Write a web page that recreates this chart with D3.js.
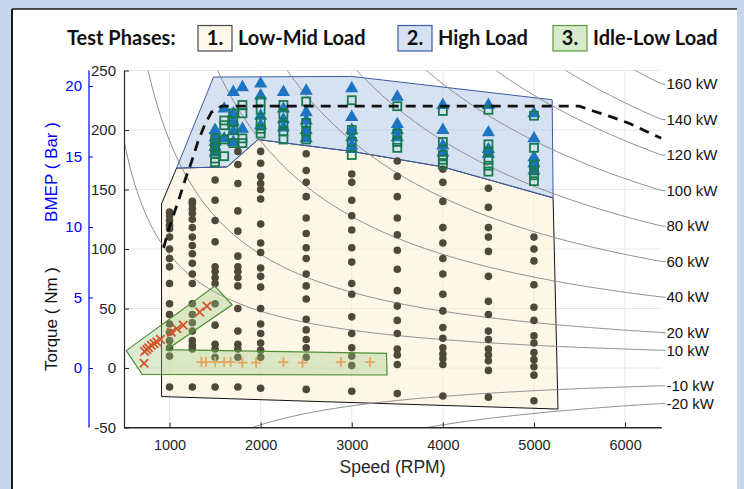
<!DOCTYPE html>
<html>
<head>
<meta charset="utf-8">
<script src="https://cdn.jsdelivr.net/npm/d3@7"></script>
<style>
  html, body { margin: 0; padding: 0; background: #c8d8ec; }
  svg { display: block; }
</style>
</head>
<body>
<svg id="chart" width="744" height="489"></svg>
<script>
// ---- engine map data (Speed in RPM, Torque in Nm) ----
const speedTicks = [1000, 2000, 3000, 4000, 5000, 6000];
const torqueTicks = [-50, 0, 50, 100, 150, 200, 250];
const bmepTicks = [0, 5, 10, 15, 20];
const powerLevels = [160, 140, 120, 100, 80, 60, 40, 20, 10, -10, -20];
const nmPerBar = 11.85;

// phase outlines
const lowMidOutline = [[912, -24], [912, 138], [1077, 168], [1632, 169], [1970, 192],
  [3000, 182], [4000, 169], [5210, 143], [5264, -34.5]];
const highOutline = [[1077, 168], [1483, 244.5], [3000, 245], [5200, 225.4], [5210, 143],
  [4000, 169], [3000, 182], [1970, 192], [1632, 169]];
const idleOutline = [[525, 14.6], [1497, 68.8], [1687, 53.1], [967, 15.4], [3381, 12.3],
  [3388, -5.9], [699, -5.4]];

// full-load torque line
const wotSpeed = [935, 1000, 1100, 1170, 1240, 1315, 1390, 1460, 1570, 5500, 5650, 5850, 6050, 6230, 6400];
const wotTorque = [101, 119, 141, 158, 173, 191, 205, 215, 220, 220, 216, 211, 205.5, 199, 193];

// phase 1: low-mid load operating points, torque per speed column
const lowMidSpeed = [1000, 1250, 1500, 1750, 2000, 2500, 3000, 3500, 4000, 4500, 5000];
const lowMidTorque = [
  [131, 128, 124, 120, 117, 110, 100, 92, 85, 71, 54, 45, 37, 30, 23, 17, 10, -16],
  [140, 138, 134, 130, 125, 118, 110, 103, 96, 88, 79, 71, 54, 45, 38, 31, 23, 19, 16, -16],
  [158, 141, 124, 106, 85, 81, 76, 71, 54, 36, 20, 16, 9, -16],
  [182, 171, 155, 132, 115, 94, 85, 81, 76, 69, 50, 31, 20, 16, 9, -16],
  [182, 172, 161, 155, 150, 142, 121, 105, 97, 84, 77, 68, 50, 37, 29, 21, 15, 9, -17],
  [180, 166, 156, 144, 126, 113, 101, 92, 79, 69, 58, 41, 32, 24, 17, 9, -18],
  [163, 156, 141, 128, 116, 101, 89, 71, 62, 43, 29, 17, 10, 2, -19.5],
  [174, 161, 144, 126, 112, 99, 83, 65, 52, 40, 29, 16, 11, 3, -21.5],
  [167, 156, 140, 118, 105, 92, 79, 62, 48, 34, 25, 17, 12, 8, 3, -23.5],
  [151, 135, 118, 110, 98, 77, 56, 45, 31, 24, 16, 11, 6, -2, -24.5],
  [110, 100, 90, 70, 51, 40, 27, 21, 13, 7, 1, -6, -27.5]
];

// phase 2: high load operating points
const highSpeed = [1500, 1600, 1700, 1800, 2000, 2250, 2500, 3000, 3500, 4000, 4500, 5000];
const highTriTorque = [
  [199, 193, 189, 185, 180],
  [217, 192],
  [231, 213, 206, 198, 189],
  [235, 200],
  [238, 228, 211, 203],
  [231, 217, 208, 201],
  [232, 214, 207, 199, 192],
  [234, 210, 199, 193, 186, 183],
  [227, 204, 199, 193],
  [220, 199, 186, 180],
  [220, 197, 183, 179],
  [213, 192, 176, 171, 165]
];
const highSqTorque = [
  [193, 189, 185, 180, 176, 173],
  [208, 204, 192, 178],
  [214, 207, 200, 189],
  [221, 214, 193, 189],
  [224, 217, 207, 201, 197],
  [221, 213, 204, 199, 192],
  [224, 206, 199, 192],
  [225, 200, 190, 179],
  [220, 197, 190, 185],
  [216, 190, 179, 175, 171],
  [217, 188, 182, 175, 170, 165],
  [212, 185, 171, 166, 162, 157]
];

// phase 3: idle-low load operating points
const idleRampSpeed = [720, 725, 750, 770, 800, 830, 860, 900, 1020, 1080, 1150, 1330, 1410];
const idleRampTorque = [4, 14, 15.5, 17, 19, 20.5, 22, 24, 30, 33, 36, 47, 52];
const idleFlatSpeed = [1350, 1400, 1500, 1600, 1670, 1800, 1950, 2250, 2460, 2880, 3200];
const idleFlatTorque = [5, 5, 5, 5, 5, 4.5, 4.5, 5, 4.5, 5, 5];

// ---- layout ----
const svg = d3.select('#chart');
const W = 744, H = 489;
const plot = { left: 124, right: 661.5, top: 70.5, bottom: 427.5 };
const x = d3.scaleLinear().domain([500, 6400]).range([plot.left, plot.right]);
const y = d3.scaleLinear().domain([-50, 250]).range([plot.bottom, plot.top]);
const yBmep = d3.scaleLinear().domain([-50 / nmPerBar, 250 / nmPerBar]).range([plot.bottom, plot.top]);
const textColor = '#262626';
const font = "'Liberation Sans', Arial, sans-serif";
const plain = d => String(d);

// window frame
svg.append('rect').attr('width', W).attr('height', H).attr('fill', '#c8d8ec');
svg.append('rect').attr('x', 12).attr('y', 9).attr('width', 725).attr('height', H)
  .attr('fill', '#ffffff');
svg.append('line').attr('x1', 12).attr('x2', 12).attr('y1', 9).attr('y2', H)
  .attr('stroke', '#1a1a1a').attr('stroke-width', 2);
svg.append('line').attr('x1', 12).attr('x2', 737).attr('y1', 9).attr('y2', 9)
  .attr('stroke', '#1a1a1a').attr('stroke-width', 1.5);

// legend
const legend = svg.append('g').attr('font-family', "Lato, 'Open Sans', sans-serif")
  .attr('font-weight', 'bold').attr('font-size', 20).attr('fill', '#111');
legend.append('text').attr('x', 67).attr('y', 45).text('Test Phases:');
const legendItems = [
  { n: '1.', label: 'Low-Mid Load', x: 198, fill: '#fdf8ea', stroke: '#4a4a4a' },
  { n: '2.', label: 'High Load', x: 398, fill: '#d6e1f2', stroke: '#3b5ba5' },
  { n: '3.', label: 'Idle-Low Load', x: 553, fill: '#d9eacc', stroke: '#5b9a3c' }
];
legendItems.forEach(d => {
  legend.append('rect').attr('x', d.x).attr('y', 25.5).attr('width', 34).attr('height', 25.5)
    .attr('fill', d.fill).attr('stroke', d.stroke).attr('stroke-width', 1.2);
  legend.append('text').attr('x', d.x + 17).attr('y', 45).attr('text-anchor', 'middle').text(d.n);
  legend.append('text').attr('x', d.x + 40).attr('y', 45).text(d.label);
});

// grid
const grid = svg.append('g').attr('stroke', '#e6e6e6').attr('stroke-width', 1);
speedTicks.forEach(v => grid.append('line').attr('x1', x(v)).attr('x2', x(v))
  .attr('y1', plot.top).attr('y2', plot.bottom));
torqueTicks.forEach(v => grid.append('line').attr('x1', plot.left).attr('x2', plot.right)
  .attr('y1', y(v)).attr('y2', y(v)));

svg.append('clipPath').attr('id', 'plotClip').append('rect')
  .attr('x', plot.left).attr('y', plot.top)
  .attr('width', plot.right - plot.left).attr('height', plot.bottom - plot.top);
const area = svg.append('g').attr('clip-path', 'url(#plotClip)');

const toPts = arr => arr.map(p => [x(p[0]), y(p[1])].join(',')).join(' ');

// phase 1 and phase 2 regions
area.append('polygon').attr('points', toPts(lowMidOutline))
  .attr('fill', '#fbf1d6').attr('fill-opacity', 0.55)
  .attr('stroke', '#111').attr('stroke-width', 1);
area.append('polygon').attr('points', toPts(highOutline))
  .attr('fill', '#aec3e6').attr('fill-opacity', 0.5)
  .attr('stroke', '#3b5ba5').attr('stroke-width', 1);

// constant power lines: T = P / omega
const rpmSamples = d3.range(300, 6401, 20);
const powerLine = d3.line().x(d => x(d[0])).y(d => y(d[1]));
powerLevels.forEach(p => {
  const pts = rpmSamples.map(n => [n, p * 1000 / (n * Math.PI / 30)]);
  area.append('path').attr('d', powerLine(pts)).attr('fill', 'none')
    .attr('stroke', '#8c8c8c').attr('stroke-width', 1);
  const tEnd = p * 1000 / (6400 * Math.PI / 30);
  svg.append('line').attr('x1', x(6400)).attr('x2', x(6400) + 4)
    .attr('y1', y(tEnd)).attr('y2', y(tEnd) + 0.3)
    .attr('stroke', '#8c8c8c').attr('stroke-width', 1);
  svg.append('text').attr('x', x(6400) + 5).attr('y', y(tEnd)).attr('dy', '0.36em')
    .attr('font-family', font).attr('font-size', 15).attr('fill', '#111')
    .text(`${p} kW`);
});

// phase 1 points
const lowMidPts = [];
lowMidSpeed.forEach((s, i) => lowMidTorque[i].forEach(t => lowMidPts.push([s, t])));
area.append('g').selectAll('circle').data(lowMidPts).join('circle')
  .attr('cx', d => x(d[0])).attr('cy', d => y(d[1])).attr('r', 3.8)
  .attr('fill', '#4f4939');

// phase 2 points
const triPts = [], sqPts = [];
highSpeed.forEach((s, i) => {
  highTriTorque[i].forEach(t => triPts.push([s, t]));
  highSqTorque[i].forEach(t => sqPts.push([s, t]));
});
const tri = d3.symbol().type(d3.symbolTriangle).size(75);
area.append('g').selectAll('path').data(triPts).join('path')
  .attr('d', tri).attr('transform', d => `translate(${x(d[0])},${y(d[1]) - 1})`)
  .attr('fill', '#1c74c2');
area.append('g').selectAll('rect').data(sqPts).join('rect')
  .attr('x', d => x(d[0]) - 4).attr('y', d => y(d[1]) - 4)
  .attr('width', 8).attr('height', 8)
  .attr('fill', 'none').attr('stroke', '#17794c').attr('stroke-width', 1.8);

// phase 3 region and points
area.append('polygon').attr('points', toPts(idleOutline))
  .attr('fill', '#9cc77f').attr('fill-opacity', 0.35)
  .attr('stroke', '#4f8f35').attr('stroke-width', 1.2);
const cross = d3.symbol().type(d3.symbolX).size(48);
area.append('g').selectAll('path').data(idleRampSpeed.map((s, i) => [s, idleRampTorque[i]]))
  .join('path').attr('d', cross)
  .attr('transform', d => `translate(${x(d[0])},${y(d[1])})`)
  .attr('fill', 'none').attr('stroke', '#d4552c').attr('stroke-width', 1.8);
area.append('g').selectAll('g').data(idleFlatSpeed.map((s, i) => [s, idleFlatTorque[i]]))
  .join('g').attr('transform', d => `translate(${x(d[0])},${y(d[1])})`)
  .each(function () {
    const g = d3.select(this);
    g.append('line').attr('x1', -5).attr('x2', 5).attr('stroke', '#e6a45e').attr('stroke-width', 1.8);
    g.append('line').attr('y1', -5).attr('y2', 5).attr('stroke', '#e6a45e').attr('stroke-width', 1.8);
  });

// full-load line
const wot = d3.line().x(d => x(d[0])).y(d => y(d[1]));
area.append('path').attr('d', wot(wotSpeed.map((s, i) => [s, wotTorque[i]])))
  .attr('fill', 'none').attr('stroke', '#111').attr('stroke-width', 2.8)
  .attr('stroke-dasharray', '10,7');

// axes
const xAxis = svg.append('g').attr('transform', `translate(0,${plot.bottom})`)
  .call(d3.axisBottom(x).tickValues(speedTicks).tickFormat(plain)
    .tickSizeInner(-5).tickSizeOuter(0).tickPadding(12));
const yAxis = svg.append('g').attr('transform', `translate(${plot.left},0)`)
  .call(d3.axisLeft(y).tickValues(torqueTicks).tickFormat(plain)
    .tickSizeInner(-5).tickSizeOuter(0).tickPadding(8));
[xAxis, yAxis].forEach(a => {
  a.select('.domain').attr('stroke', textColor).attr('stroke-width', 1.2);
  a.selectAll('.tick line').attr('stroke', textColor);
  a.selectAll('text').attr('font-family', font).attr('fill', textColor);
});
xAxis.selectAll('text').attr('font-size', 14.5);
yAxis.selectAll('text').attr('font-size', 15);
svg.append('line').attr('x1', plot.left).attr('x2', plot.right)
  .attr('y1', plot.bottom).attr('y2', plot.bottom).attr('stroke', textColor).attr('stroke-width', 1.2);

const bAxis = svg.append('g').attr('transform', 'translate(89,0)')
  .call(d3.axisLeft(yBmep).tickValues(bmepTicks).tickFormat(plain)
    .tickSizeInner(-4).tickSizeOuter(0).tickPadding(7));
bAxis.select('.domain').attr('stroke', '#0000ff').attr('stroke-width', 1.2)
  .attr('d', `M0,${plot.top}V${plot.bottom}`);
bAxis.selectAll('.tick line').attr('stroke', '#0000ff');
bAxis.selectAll('text').attr('font-family', font).attr('font-size', 15).attr('fill', '#0000ff');

// axis titles
svg.append('text').attr('x', 392.5).attr('y', 472.5).attr('text-anchor', 'middle')
  .attr('font-family', font).attr('font-size', 17.5).attr('fill', textColor).text('Speed (RPM)');
svg.append('text').attr('transform', 'translate(57,319) rotate(-90)').attr('text-anchor', 'middle')
  .attr('font-family', font).attr('font-size', 17).attr('fill', '#111').text('Torque ( Nm )');
svg.append('text').attr('transform', 'translate(57,172) rotate(-90)').attr('text-anchor', 'middle')
  .attr('font-family', font).attr('font-size', 17).attr('fill', '#0000ff').text('BMEP ( Bar )');
</script>
</body>
</html>
